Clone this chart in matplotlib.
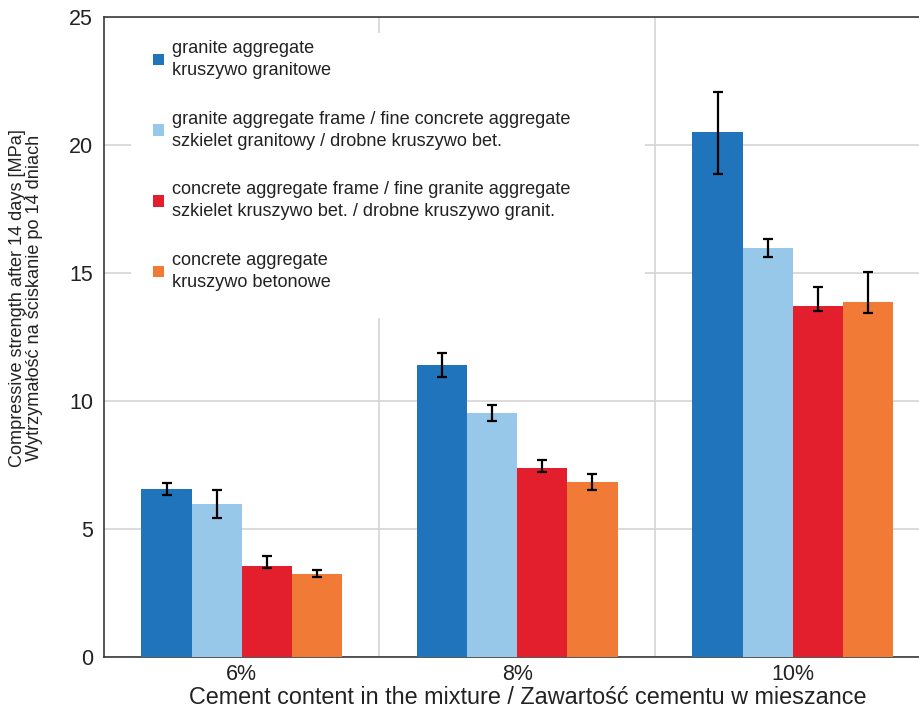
import matplotlib
matplotlib.use("Agg")
import matplotlib.pyplot as plt
from matplotlib.patches import Patch, Rectangle
import numpy as np

plt.rcParams['font.family'] = ['Liberation Sans', 'DejaVu Sans']

categories = ["6%", "8%", "10%"]
series_labels = [
    "granite aggregate\nkruszywo granitowe",
    "granite aggregate frame / fine concrete aggregate\nszkielet granitowy / drobne kruszywo bet.",
    "concrete aggregate frame / fine granite aggregate\nszkielet kruszywo bet. / drobne kruszywo granit.",
    "concrete aggregate\nkruszywo betonowe",
]
colors = ["#1f74bb", "#98c8e9", "#e31e2d", "#f17a36"]

# mean compressive strength [MPa] per series, one value per cement content
granite = [6.56, 11.41, 20.49]
granite_frame = [5.98, 9.53, 15.96]
concrete_frame = [3.57, 7.40, 13.71]
concrete = [3.26, 6.82, 13.87]

# error bar extents below / above the mean
granite_err_lo = [0.23, 0.47, 1.61]
granite_err_hi = [0.23, 0.45, 1.58]
granite_frame_err_lo = [0.56, 0.30, 0.32]
granite_frame_err_hi = [0.54, 0.30, 0.36]
concrete_frame_err_lo = [0.08, 0.19, 0.19]
concrete_frame_err_hi = [0.37, 0.30, 0.74]
concrete_err_lo = [0.13, 0.31, 0.43]
concrete_err_hi = [0.14, 0.34, 1.17]

series = [granite, granite_frame, concrete_frame, concrete]
errs_lo = [granite_err_lo, granite_frame_err_lo, concrete_frame_err_lo, concrete_err_lo]
errs_hi = [granite_err_hi, granite_frame_err_hi, concrete_frame_err_hi, concrete_err_hi]

TEXT = "#222222"
GRID = "#d4d4d4"

fig = plt.figure(figsize=(9.19, 7.10), dpi=100)
ax = fig.add_axes([104 / 919, 1 - 657 / 710, 826.5 / 919, 640 / 710])

x = np.arange(len(categories))
width = 0.182
offsets = (np.arange(4) - 1.5) * width

for vals, lo, hi, off, col in zip(series, errs_lo, errs_hi, offsets, colors):
    ax.bar(x + off, vals, width=width, color=col, zorder=3, linewidth=0)
    ax.errorbar(x + off, vals, yerr=[lo, hi], fmt="none", ecolor="black",
                elinewidth=1.6, capsize=3.5, capthick=1.6, zorder=4)

ax.set_xlim(-0.5, 2.5)
ax.set_ylim(0, 25)
ax.set_yticks([0, 5, 10, 15, 20, 25])
ax.set_xticks(x)
ax.set_xticklabels(categories)
ax.set_xticks([0.5, 1.5], minor=True)
ax.tick_params(axis="both", which="both", length=0, labelsize=15.5, colors=TEXT)
ax.tick_params(axis="y", pad=8)
ax.tick_params(axis="x", pad=5)

ax.yaxis.grid(True, color=GRID, linewidth=1.2, zorder=0)
ax.xaxis.grid(True, which="minor", color=GRID, linewidth=1.2, zorder=0)
ax.xaxis.grid(False, which="major")
ax.set_axisbelow(True)

for side in ["left", "bottom", "top", "right"]:
    ax.spines[side].set_color("#3a3a3a")
    ax.spines[side].set_linewidth(1.2)

# white panel behind the legend, hiding the grid there
ax.add_patch(Rectangle((0.0327, 0.5297), 0.6219, 0.4453, transform=ax.transAxes,
                       facecolor="white", edgecolor="none", zorder=2))

fig.text(528 / 919, 1 - 704 / 710,
         "Cement content in the mixture / Zawartość cementu w mieszance",
         ha="center", va="baseline", fontsize=16.8, color=TEXT)

fig.text(26 / 919, 1 - 298 / 710,
         "Compressive strength after 14 days [MPa]\nWytrzymałość na ściskanie po 14 dniach",
         rotation=90, ha="center", va="center", multialignment="center",
         fontsize=13.1, color=TEXT, linespacing=1.05)

handles = [Patch(facecolor=c, edgecolor="none") for c in colors]
leg = ax.legend(handles, series_labels, loc="upper left",
                bbox_to_anchor=(0.0593, 0.964), fontsize=13.1,
                frameon=False, borderpad=0, borderaxespad=0,
                handlelength=0.6, handleheight=0.6, handletextpad=0.45,
                labelspacing=1.75)
leg.set_zorder(5)
for t in leg.get_texts():
    t.set_color(TEXT)
    t.set_linespacing(1.37)

fig.savefig("out.png", dpi=100)
